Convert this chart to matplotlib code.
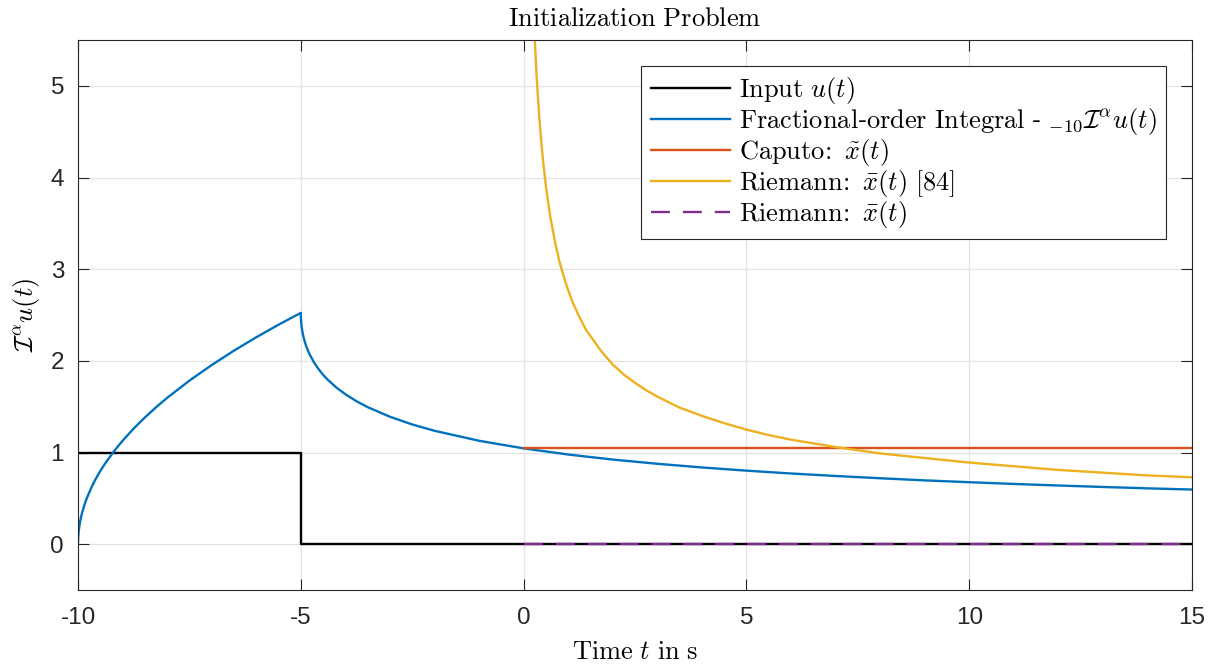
import numpy as np
import matplotlib.pyplot as plt

# ------------------------------
# Dados
# Entrada u(t): pulso unitário de -10 a -5
t_input = [-10, -5, -5, 15]
u_input = [1, 1, 0, 0]

# Integral de ordem fracionária -10 I^alpha u(t)
t_frac = [-10, -9.998, -9.995, -9.99, -9.98, -9.965, -9.95, -9.925, -9.9, -9.85, -9.8,
          -9.7, -9.6, -9.5, -9.4, -9.2, -9.0, -8.75, -8.5, -8.25, -8.0, -7.5, -7.0, -6.5,
          -6.0, -5.5, -5.0,
          -4.998, -4.995, -4.99, -4.98, -4.965, -4.95, -4.925, -4.9, -4.85, -4.8, -4.7,
          -4.6, -4.5, -4.4, -4.2, -4.0, -3.75, -3.5, -3.0, -2.5, -2.0, -1.0,
          0, 1, 2, 3, 4, 5, 6, 7, 8, 9, 10, 11, 12, 13, 14, 15]
x_frac = [0, 0.051, 0.080, 0.113, 0.160, 0.211, 0.252, 0.309, 0.357, 0.437, 0.505,
          0.618, 0.714, 0.798, 0.874, 1.009, 1.128, 1.262, 1.382, 1.493, 1.596, 1.784,
          1.954, 2.111, 2.257, 2.394, 2.523,
          2.473, 2.445, 2.413, 2.369, 2.321, 2.283, 2.233, 2.191, 2.124, 2.069, 1.980,
          1.909, 1.848, 1.796, 1.708, 1.636, 1.559, 1.495, 1.390, 1.306, 1.237, 1.128,
          1.045, 0.978, 0.923, 0.877, 0.837, 0.802, 0.771, 0.744, 0.719, 0.696, 0.676,
          0.657, 0.640, 0.624, 0.609, 0.596]

# Caputo
t_caputo = [0, 15]
x_caputo = [1.045, 1.045]

# Riemann [84]
t_riem84 = [0.2, 0.22, 0.25, 0.28, 0.3, 0.35, 0.4, 0.45, 0.5, 0.55, 0.6, 0.7, 0.8, 0.9,
            1.0, 1.1, 1.25, 1.4, 1.5, 1.75, 2, 2.25, 2.5, 2.75, 3, 3.5, 4, 4.5, 5, 5.5,
            6, 7, 8, 9, 10, 11, 12, 13, 14, 15]
x_riem84 = [6.17, 5.88, 5.52, 5.22, 5.04, 4.67, 4.37, 4.12, 3.91, 3.73, 3.57, 3.31, 3.09,
            2.92, 2.77, 2.64, 2.48, 2.34, 2.27, 2.10, 1.96, 1.85, 1.76, 1.68, 1.61, 1.49,
            1.40, 1.32, 1.25, 1.19, 1.14, 1.06, 0.99, 0.94, 0.89, 0.85, 0.81, 0.78, 0.75,
            0.73]

# Riemann
t_riem = [0, 15]
x_riem = [0, 0]

x_ticks = [-10, -5, 0, 5, 10, 15]
y_ticks = [0, 1, 2, 3, 4, 5]

# ------------------------------
# Estilo
plt.rcParams['mathtext.fontset'] = 'cm'
plt.rcParams['font.family'] = ['Liberation Sans', 'DejaVu Sans']
plt.rcParams['axes.unicode_minus'] = False

fs_tex = 19
lw = 1.7

fig = plt.figure(figsize=(12.14, 6.66), dpi=100)
ax = fig.add_axes([78/1214, 1 - 590/666, (1192 - 78)/1214, (590 - 40)/666])

ax.plot(t_input, u_input, color='black', lw=lw, label=r'$\mathrm{Input}\ u(t)$')
ax.plot(t_frac, x_frac, color='#0072BD', lw=lw,
        label=r'$\mathrm{Fractional}$-$\mathrm{order\ Integral}$ - ${}_{-10}\mathcal{I}^{\alpha}u(t)$')
ax.plot(t_caputo, x_caputo, color='#D95319', lw=lw, label=r'$\mathrm{Caputo\!:}\ \tilde{x}(t)$')
ax.plot(t_riem84, x_riem84, color='#EDB120', lw=lw, label=r'$\mathrm{Riemann\!:}\ \bar{x}(t)\ [84]$')
ax.plot(t_riem, x_riem, color='#7E2F8E', lw=lw, ls=(0, (8, 5.5)), label=r'$\mathrm{Riemann\!:}\ \bar{x}(t)$')

ax.set_xlim(-10, 15)
ax.set_ylim(-0.5, 5.5)
ax.set_xticks(x_ticks)
ax.set_yticks(y_ticks)
ax.tick_params(direction='in', length=8, width=0.8, labelsize=17.5, colors='#262626',
               top=True, right=True, pad=10)
ax.tick_params(axis='x', pad=12)
for s in ax.spines.values():
    s.set_color('#262626')
    s.set_linewidth(0.8)
ax.grid(True, color='#e3e3e3', lw=0.9)
ax.set_axisbelow(True)

ax.set_title(r'$\mathrm{Initialization\ Problem}$', fontsize=fs_tex, pad=10)
ax.set_xlabel(r'$\mathrm{Time}\ t\ \mathrm{in\ s}$', fontsize=fs_tex, labelpad=8)
ax.set_ylabel(r'$\mathcal{I}^{\alpha}u(t)$', fontsize=fs_tex, labelpad=6)

leg = ax.legend(loc='upper right', fontsize=fs_tex,
                frameon=True, fancybox=False, framealpha=1, edgecolor='#262626',
                handlelength=3.0, handletextpad=0.35, labelspacing=0.0, borderpad=0.35,
                borderaxespad=0)
leg.get_frame().set_linewidth(0.8)
# posiciona a legenda em coordenadas da figura
leg.set_bbox_to_anchor((1166/1214, 1 - 66/666), transform=fig.transFigure)

fig.savefig('out.png', dpi=100)
